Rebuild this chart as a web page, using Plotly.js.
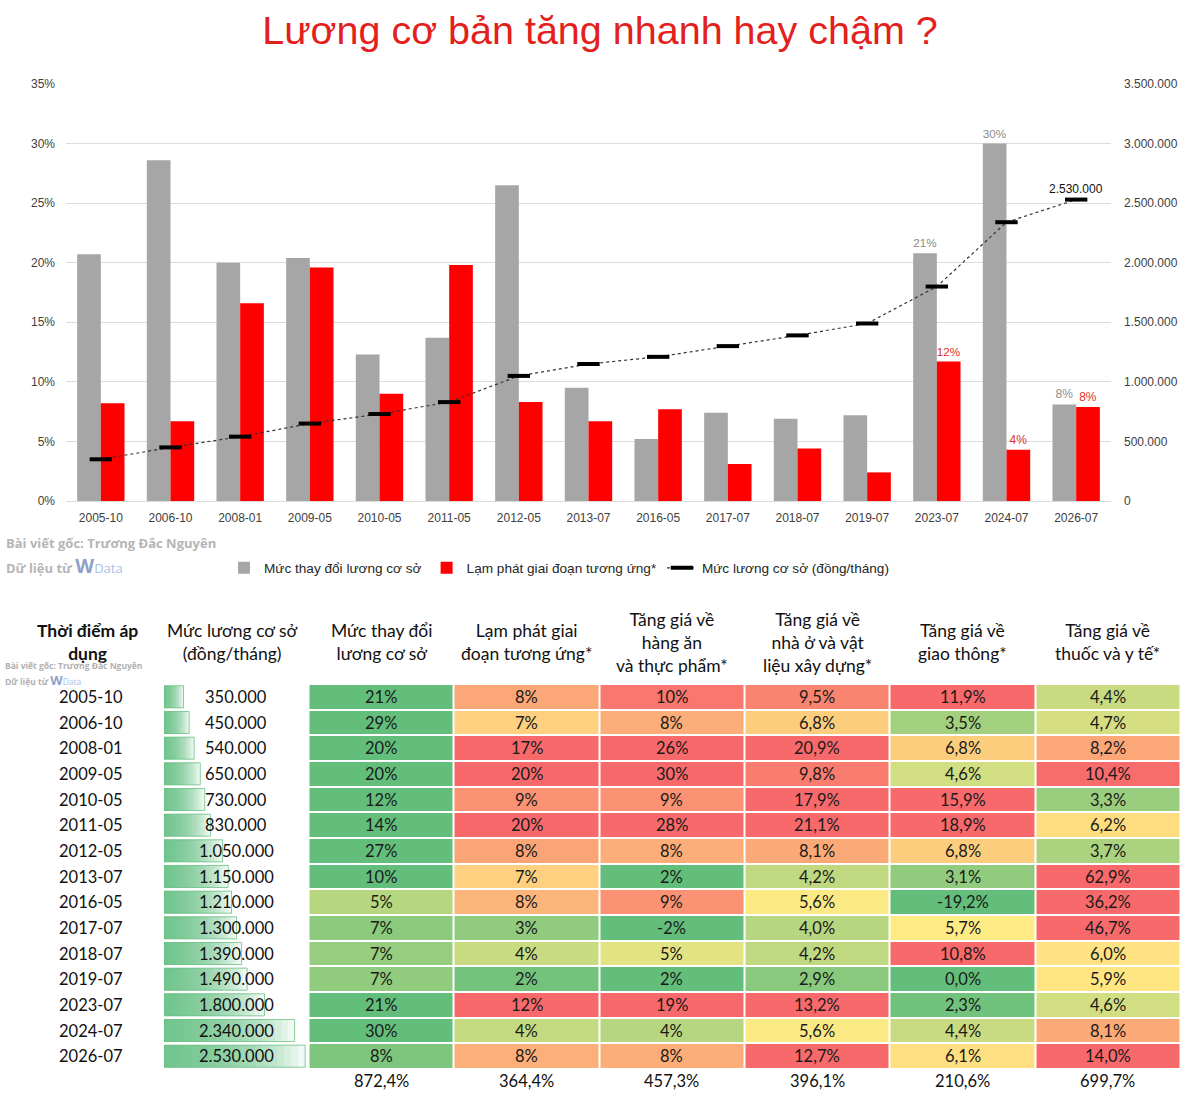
<!DOCTYPE html>
<html><head><meta charset="utf-8">
<script src="https://cdn.plot.ly/plotly-3.0.1.min.js"></script>
<style>html,body{margin:0;padding:0;background:#fff}#chart{width:1200px;height:1104px}</style>
</head><body><div id="chart"></div>
<script>
// ---------- DATA ----------
const chartTitle = 'Lương cơ bản tăng nhanh hay chậm ?';
const dates = ['2005-10','2006-10','2008-01','2009-05','2010-05','2011-05','2012-05','2013-07','2016-05','2017-07','2018-07','2019-07','2023-07','2024-07','2026-07'];
const baseWage = [350000,450000,540000,650000,730000,830000,1050000,1150000,1210000,1300000,1390000,1490000,1800000,2340000,2530000];
const wageChange = [20.7,28.6,20.0,20.4,12.3,13.7,26.5,9.5,5.2,7.4,6.9,7.2,20.8,30.0,8.1];
const inflation = [8.2,6.7,16.6,19.6,9.0,19.8,8.3,6.7,7.7,3.1,4.4,2.4,11.7,4.3,7.9];
const foodPrice = [10,8,26,30,9,28,8,2,9,-2,5,2,19,4,8];
const housingPrice = [9.5,6.8,20.9,9.8,17.9,21.1,8.1,4.2,5.6,4.0,4.2,2.9,13.2,5.6,12.7];
const transportPrice = [11.9,3.5,6.8,4.6,15.9,18.9,6.8,3.1,-19.2,5.7,10.8,0.0,2.3,4.4,6.1];
const healthPrice = [4.4,4.7,8.2,10.4,3.3,6.2,3.7,62.9,36.2,46.7,6.0,5.9,4.6,8.1,14.0];
const totals = [872.4,364.4,457.3,396.1,210.6,699.7];
const seriesNames = ['Mức thay đổi lương cơ sở','Lạm phát giai đoạn tương ứng*','Mức lương cơ sở (đồng/tháng)'];
const tableHeaders = ['Thời điểm áp<br>dụng','Mức lương cơ sở<br>(đồng/tháng)','Mức thay đổi<br>lương cơ sở','Lạm phát giai<br>đoạn tương ứng*','Tăng giá về<br>hàng ăn<br>và thực phẩm*','Tăng giá về<br>nhà ở và vật<br>liệu xây dựng*','Tăng giá về<br>giao thông*','Tăng giá về<br>thuốc và y tế*'];
const labelFrom = 12; // data labels shown for the last points
const credit1 = 'Bài viết gốc: Trương Đắc Nguyên';

// ---------- HELPERS ----------
const W = 1200, H = 1104;
const px = p => p / W;
const py = p => 1 - p / H;
const dots = v => String(v).replace(/\B(?=(\d{3})+(?!\d))/g, '.');
const pInt = v => Math.round(v) + '%';
const pDec = v => v.toFixed(1).replace('.', ',') + '%';
const G = 'rgb(99,190,123)', Y = 'rgb(255,235,132)', R = 'rgb(248,105,107)';
const TF = 'Lato, "Open Sans", sans-serif';
const AF = '"Liberation Sans", Arial, sans-serif';

const traces = [];
// top chart
traces.push({
  type:'bar', name:seriesNames[0], x:dates, y:wageChange, xaxis:'x', yaxis:'y',
  marker:{color:'rgb(166,166,166)'},
  text: wageChange.map((v,i)=> i>=labelFrom ? pInt(v) : ''),
  textposition:'outside', textfont:{family:AF,size:12,color:'#8c8c8c'}, cliponaxis:false,
  hoverinfo:'skip'
});
traces.push({
  type:'bar', name:seriesNames[1], x:dates, y:inflation, xaxis:'x', yaxis:'y',
  marker:{color:'rgb(255,0,0)'},
  text: inflation.map((v,i)=> i>=labelFrom ? pInt(v) : ''),
  textposition:'outside', textfont:{family:AF,size:12,color:'#e0302b'}, cliponaxis:false,
  hoverinfo:'skip'
});
traces.push({
  type:'scatter', mode:'lines+markers', name:seriesNames[2], x:dates, y:baseWage, xaxis:'x', yaxis:'y2',
  line:{color:'#333', width:1.2, dash:'dot'},
  marker:{symbol:'line-ew', size:16, line:{width:4, color:'#000'}, color:'#000'},
  cliponaxis:false, hoverinfo:'skip'
});

// table: data bars for base wage (gradient built from overlaid layers)
const NL = 20;
for (let k=0;k<NL;k++){
  traces.push({type:'bar', orientation:'h', x: baseWage.map(v=>v*(NL-k)/NL), y:dates, xaxis:'x4', yaxis:'y4',
    marker:{color:'rgba(99,190,123,0.095)', line:{width:0}}, width:0.86, offset:-0.43,
    showlegend:false, hoverinfo:'skip'});
}
traces.push({type:'bar', orientation:'h', x: baseWage, y:dates, xaxis:'x4', yaxis:'y4',
  marker:{color:'rgba(0,0,0,0)', line:{width:1, color:'rgba(99,190,123,0.75)'}}, width:0.86, offset:-0.43,
  showlegend:false, hoverinfo:'skip'});

// table heatmaps (cell colours through colour scales)
const hmCommon = {xaxis:'x3', yaxis:'y3', y:dates, showscale:false, xgap:2, ygap:2, hoverinfo:'skip', showlegend:false};
const redScale = [[0,G],[0.435,Y],[1,R]];
traces.push(Object.assign({}, hmCommon, {type:'heatmap', x:[tableHeaders[2]],
  z: dates.map((d,i)=>[wageChange[i]]), colorscale:[[0,Y],[1,G]], zmin:1.5, zmax:9.5}));
traces.push(Object.assign({}, hmCommon, {type:'heatmap', x:[tableHeaders[3],tableHeaders[4]],
  z: dates.map((d,i)=>[inflation[i], foodPrice[i]]), colorscale:redScale, zmin:2, zmax:10.5}));
traces.push(Object.assign({}, hmCommon, {type:'heatmap', x:[tableHeaders[5],tableHeaders[6],tableHeaders[7]],
  z: dates.map((d,i)=>[housingPrice[i], transportPrice[i], healthPrice[i]]), colorscale:redScale, zmin:2, zmax:10.5}));

// ---------- ANNOTATIONS ----------
const ann = [];
// last value label on the line
const nLast = baseWage.length - 1;
ann.push({text:dots(baseWage[nLast]), xref:'x', x:dates[nLast], yref:'y2', y:baseWage[nLast], yanchor:'bottom',
  xanchor:'center', yshift:2, showarrow:false, font:{family:AF, size:12, color:'#111'}});
// cell texts
const cellCols = [[wageChange,pInt],[inflation,pInt],[foodPrice,pInt],[housingPrice,pDec],[transportPrice,pDec],[healthPrice,pDec]];
cellCols.forEach(([arr,fmt],j)=>{
  arr.forEach((v,i)=>{
    ann.push({text:fmt(v), xref:'x3', x:j, yref:'y3', y:dates[i], showarrow:false, xanchor:'center', yanchor:'middle',
      font:{family:TF, size:16.5, color:'#1a1a1a'}});
  });
});
const hdrX = [87, 233];
tableHeaders.forEach((h,i)=>{
  const a = {text: i===0 ? '<b>'+h+'</b>' : h, yref:'paper', y:py(642), yanchor:'middle', showarrow:false,
    font:{family:TF, size:17.5, color:'#111'}, align:'center', xanchor:'center'};
  if (i<2){ a.xref='paper'; a.x=px(hdrX[i]); } else { a.xref='x3'; a.x=i-2; }
  ann.push(a);
});
dates.forEach((d,i)=>{
  ann.push({text:d, xref:'paper', x:px(91), yref:'y4', y:d, showarrow:false, xanchor:'center', yanchor:'middle',
    font:{family:TF, size:16.5, color:'#111'}});
  ann.push({text:dots(baseWage[i]), xref:'x4 domain', x:0.5, yref:'y4', y:d, showarrow:false, xanchor:'center', yanchor:'middle',
    font:{family:TF, size:16.5, color:'#111'}});
});
totals.forEach((t,i)=>{
  ann.push({text:pDec(t), xref:'x3', x:i, yref:'paper', y:py(1081), showarrow:false,
    xanchor:'center', yanchor:'middle', font:{family:TF, size:16.5, color:'#111'}});
});
const credit2 = 'Dữ liệu từ <span style="color:#8ea2c9;font-size:1.5em">W</span><span style="color:#a9c1e3;font-weight:normal">Data</span>';
ann.push({text:'<b>'+credit1+'</b>', xref:'paper', x:px(4), xanchor:'left', yref:'paper', y:py(543), yanchor:'middle',
  showarrow:false, font:{family:'"Open Sans", sans-serif', size:13, color:'#b5b5b5'}});
ann.push({text:'<b>'+credit2+'</b>', xref:'paper', x:px(4), xanchor:'left', yref:'paper', y:py(566), yanchor:'middle',
  showarrow:false, font:{family:'"Open Sans", sans-serif', size:13, color:'#b5b5b5'}});
ann.push({text:'<b>'+credit1+'</b>', xref:'paper', x:px(3), xanchor:'left', yref:'paper', y:py(665), yanchor:'middle',
  showarrow:false, font:{family:'"Open Sans", sans-serif', size:8.5, color:'#b0b0b0'}});
ann.push({text:'<b>'+credit2+'</b>', xref:'paper', x:px(3), xanchor:'left', yref:'paper', y:py(680), yanchor:'middle',
  showarrow:false, font:{family:'"Open Sans", sans-serif', size:8.5, color:'#b0b0b0'}});

// ---------- LAYOUT ----------
const hidden = {showticklabels:false, showgrid:false, zeroline:false, showline:false, ticks:''};
const layout = {
  width:W, height:H, margin:{l:0,r:0,t:0,b:0}, paper_bgcolor:'#fff', plot_bgcolor:'rgba(0,0,0,0)',
  separators:',.', font:{family:AF, color:'#404040'},
  title:{text:chartTitle, x:0.5, xanchor:'center', xref:'paper', yref:'paper', y:py(30), yanchor:'middle',
    font:{family:AF, size:39.5, color:'#e3201b'}},
  barmode:'group', bargap:0.32, bargroupgap:0,
  showlegend:true,
  legend:{orientation:'h', x:px(559), xanchor:'center', y:py(568), yanchor:'middle',
    font:{family:AF, size:13.6, color:'#262626'}, bgcolor:'rgba(0,0,0,0)', traceorder:'normal'},
  xaxis:{domain:[px(66), px(1111)], type:'category', categoryorder:'array', categoryarray:dates, range:[-0.5,14.5],
    showgrid:false, zeroline:false, showline:false, ticks:'', tickfont:{family:AF,size:12,color:'#404040'},
    ticklabelstandoff:8, anchor:'y'},
  yaxis:{domain:[py(501), py(84)], range:[0,35], dtick:5, ticksuffix:'%', gridcolor:'#dcdcdc', gridwidth:1,
    zeroline:true, zerolinecolor:'#dcdcdc', zerolinewidth:1, showline:false, ticks:'',
    tickfont:{family:AF,size:12,color:'#404040'}, ticklabelstandoff:10, anchor:'x'},
  yaxis2:{overlaying:'y', side:'right', range:[0,3500000], dtick:500000, tickformat:',d', showgrid:false,
    zeroline:false, showline:false, ticks:'', tickfont:{family:AF,size:12,color:'#404040'}, ticklabelstandoff:12, anchor:'x'},
  xaxis3:Object.assign({domain:[px(308.5), px(1180.5)], anchor:'y3', type:'category', categoryorder:'array',
    categoryarray:tableHeaders.slice(2), range:[-0.5,5.5]}, hidden),
  yaxis3:Object.assign({domain:[py(1069), py(684)], anchor:'x3', type:'category', categoryorder:'array',
    categoryarray:dates, range:[14.5,-0.5]}, hidden),
  xaxis4:Object.assign({domain:[px(164), px(308)], anchor:'y4', range:[0,2580000]}, hidden),
  yaxis4:Object.assign({domain:[py(1069), py(684)], anchor:'x4', type:'category', categoryorder:'array',
    categoryarray:dates, range:[14.5,-0.5]}, hidden),
  annotations: ann
};

Plotly.newPlot('chart', traces, layout, {staticPlot:true, displayModeBar:false});
</script>
</body></html>
